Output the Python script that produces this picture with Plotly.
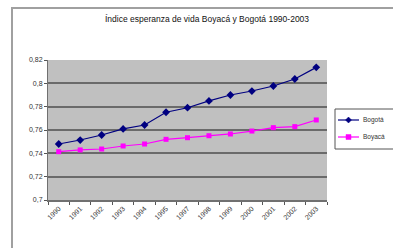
import plotly.graph_objects as go

years = ["1990", "1991", "1992", "1993", "1994", "1995", "1997", "1998", "1999", "2000", "2001", "2002", "2003"]
bogota = [0.748, 0.7514, 0.7557, 0.7609, 0.7643, 0.7752, 0.7791, 0.7849, 0.790, 0.7934, 0.7977, 0.8037, 0.8137]
boyaca = [0.7414, 0.7429, 0.7437, 0.7463, 0.748, 0.752, 0.7534, 0.7551, 0.7566, 0.7591, 0.762, 0.7629, 0.7686]
series_names = ["Bogotá", "Boyacá"]
series_colors = ["#000080", "#FF00FF"]

W, H = 393, 248
L, R, T, B = 48, 66, 60, 48
PW, PH = W - L - R, H - T - B


def px(x):
    return (x - L) / PW


def py(y):
    return (H - B - y) / PH


fig = go.Figure()
fig.add_trace(go.Scatter(x=years, y=bogota, name=series_names[0], mode="lines+markers",
                         line=dict(color=series_colors[0], width=1.2),
                         marker=dict(symbol="diamond", size=6, color=series_colors[0])))
fig.add_trace(go.Scatter(x=years, y=boyaca, name=series_names[1], mode="lines+markers",
                         line=dict(color=series_colors[1], width=1.2),
                         marker=dict(symbol="square", size=5, color=series_colors[1])))

shapes = [
    dict(type="rect", xref="paper", yref="paper",
         x0=px(12), x1=1.5, y0=-0.6, y1=py(8),
         line=dict(color="#a0a0a0", width=2), layer="below"),
    # legend box
    dict(type="rect", xref="paper", yref="paper",
         x0=px(335), x1=px(400), y0=py(149), y1=py(109),
         line=dict(color="#555555", width=1), fillcolor="white"),
]
annotations = []
for i, (nm, col) in enumerate(zip(series_names, series_colors)):
    yy = 120 + 17 * i
    shapes.append(dict(type="line", xref="paper", yref="paper",
                       x0=px(338), x1=px(359), y0=py(yy), y1=py(yy),
                       line=dict(color=col, width=1.2)))
    if i == 0:
        shapes.append(dict(type="path", xref="paper", yref="paper",
                           path=f"M {px(348.5)} {py(yy-3)} L {px(351.5)} {py(yy)} L {px(348.5)} {py(yy+3)} L {px(345.5)} {py(yy)} Z",
                           line=dict(color=col, width=0.5), fillcolor=col))
    else:
        shapes.append(dict(type="rect", xref="paper", yref="paper",
                           x0=px(346), x1=px(351), y0=py(yy + 2.5), y1=py(yy - 2.5),
                           line=dict(color=col, width=0.5), fillcolor=col))
    annotations.append(dict(text=nm, xref="paper", yref="paper", x=px(361), y=py(yy),
                            xanchor="left", yanchor="middle", showarrow=False,
                            font=dict(size=6.5, color="#333333")))

fig.update_layout(
    width=W, height=H,
    margin=dict(l=L, r=R, t=T, b=B, autoexpand=False),
    paper_bgcolor="white", plot_bgcolor="#C0C0C0",
    separators=",.",
    font=dict(family="Liberation Sans, Arial, sans-serif", size=7, color="#333333"),
    title=dict(text="Índice esperanza de vida Boyacá y Bogotá 1990-2003",
               x=207 / W, xanchor="center", y=1 - 19 / H, yanchor="middle",
               font=dict(size=8.5, color="#111111")),
    xaxis=dict(type="category", tickangle=-45, ticks="outside", ticklen=3,
               tickson="boundaries", tickcolor="#555555", showgrid=False,
               showline=True, linecolor="#707070", linewidth=1.5,
               tickfont=dict(size=7), range=[-0.5, len(years) - 0.5]),
    yaxis=dict(range=[0.7, 0.82], dtick=0.02, tick0=0.7, ticks="outside", ticklen=3,
               tickcolor="#555555", showgrid=True, gridcolor="#6a6a6a", gridwidth=1.5,
               showline=True, linecolor="#707070", linewidth=1, zeroline=False,
               tickfont=dict(size=7)),
    showlegend=False,
    shapes=shapes,
    annotations=annotations,
)

fig.write_html("out.html", config={"displayModeBar": False},
               post_script="document.body.style.margin='0';document.body.style.overflow='hidden';")
